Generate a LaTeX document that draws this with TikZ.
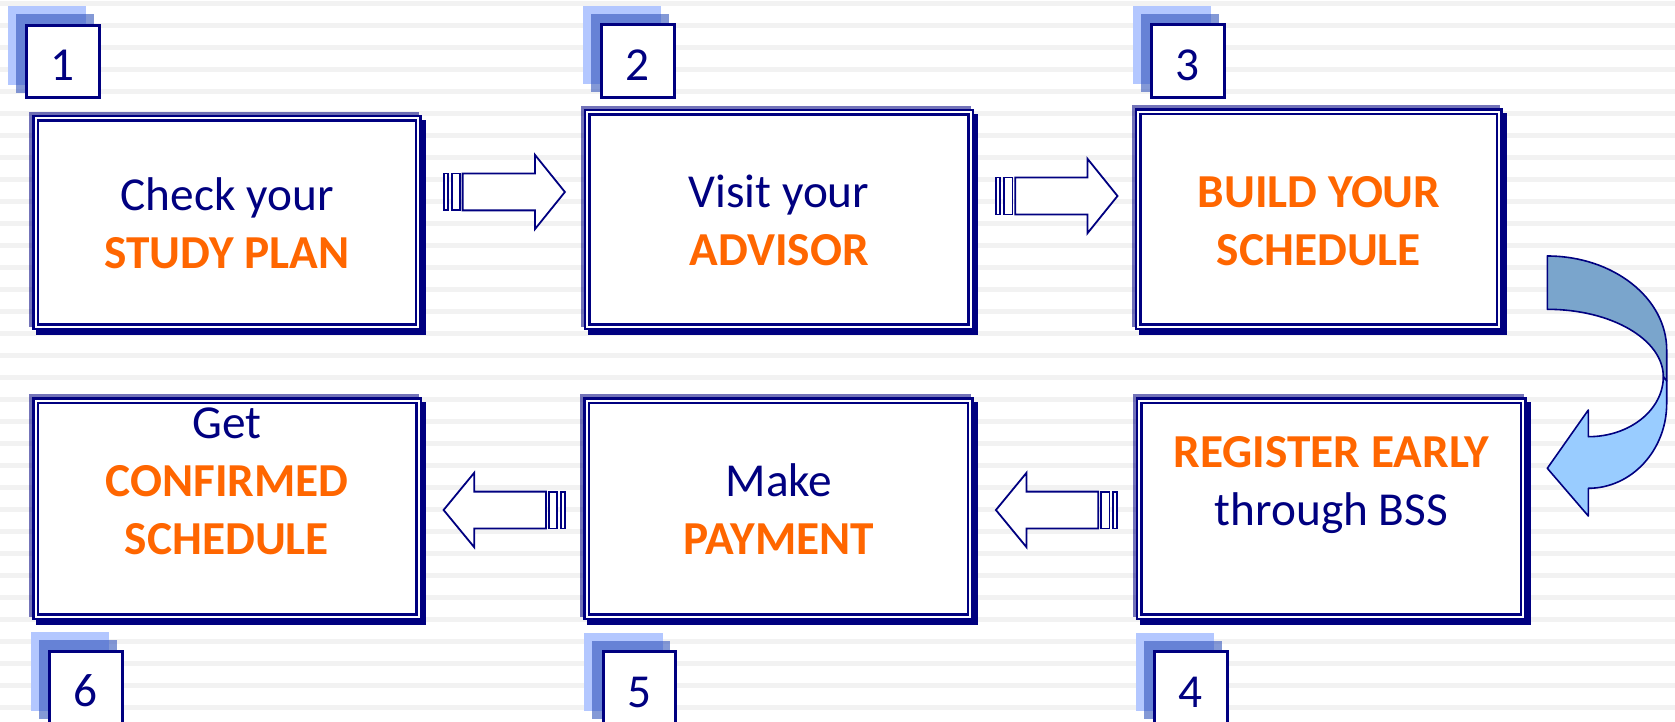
\documentclass[tikz,border=0pt]{standalone}
\usepackage{fontspec}
\setmainfont{Carlito}
\definecolor{navy}{RGB}{0,0,128}
\definecolor{orng}{RGB}{255,102,0}
\definecolor{stripe}{RGB}{242,242,242}
\definecolor{sqlight}{RGB}{179,199,255}
\definecolor{sqmid}{RGB}{51,85,187}
\definecolor{curvedark}{RGB}{122,165,204}
\definecolor{curvelight}{RGB}{153,204,255}
\tikzset{
  mainbox/.style={draw=navy, fill=white, line width=2.5pt, double=white, double distance=2pt, inner sep=0pt, outer sep=0pt},
  txtn/.style={anchor=base, text=navy, font=\fontsize{47.3}{57}\selectfont, inner sep=0pt},
  txto/.style={anchor=base, text=orng, font=\fontsize{47.3}{57}\selectfont\bfseries, inner sep=0pt},
  numbox/.style={draw=navy, fill=white, line width=3pt, inner sep=0pt, outer sep=0pt, minimum size=72.5pt},
  blockarrow/.style={draw=navy, fill=white, line width=1.8pt, line join=miter},
  curved/.style={draw=navy, line width=1.6pt, line join=round},
}
\newcommand{\bigbox}[5]{%
  \fill[navy, opacity=0.55] ({#2-3},{#3-3}) rectangle ({#4-3},{#5-3});
  \fill[navy] ({#2+4},{#3+5}) rectangle ({#4+4},{#5+5});
  \node[mainbox, minimum width={#4-#2-7}, minimum height={#5-#3-7}] (#1) at ({(#2+#4)/2},{(#3+#5)/2}) {};
}
\newcommand{\numsq}[4]{%
  \fill[sqlight] ({#2-17.5},{#3-17.5}) rectangle ({#2+61},{#3+61});
  \fill[sqmid, opacity=0.6] ({#2-9.5},{#3-9.5}) rectangle ({#2+68.5},{#3+69});
  \node[numbox] (#1) at ({#2+37.75},{#3+37.75}) {};
  \node[txtn] (#1t) at ({#2+37.5},{#3+57}) {#4};
}
\newcommand{\rarrow}[2]{%
  \draw[blockarrow] (#1,{#2-18.4}) rectangle ({#1+4},{#2+18.4});
  \draw[blockarrow] ({#1+8},{#2-18.4}) rectangle ({#1+16.3},{#2+18.4});
  \draw[blockarrow] ({#1+19},{#2-18.4}) -- ({#1+91.3},{#2-18.4}) -- ({#1+91.3},{#2-37.2}) -- ({#1+121.3},#2) -- ({#1+91.3},{#2+37.2}) -- ({#1+91.3},{#2+18.4}) -- ({#1+19},{#2+18.4}) -- cycle;
}
\newcommand{\larrow}[2]{%
  \draw[blockarrow] (#1,#2) -- ({#1+30.6},{#2-37.2}) -- ({#1+30.6},{#2-18.4}) -- ({#1+102.3},{#2-18.4}) -- ({#1+102.3},{#2+18.4}) -- ({#1+30.6},{#2+18.4}) -- ({#1+30.6},{#2+37.2}) -- cycle;
  \draw[blockarrow] ({#1+105},{#2-18.4}) rectangle ({#1+113.5},{#2+18.4});
  \draw[blockarrow] ({#1+117},{#2-18.4}) rectangle ({#1+121.3},{#2+18.4});
}
\begin{document}
\begin{tikzpicture}[x=1pt,y=-1pt]
\useasboundingbox (0,0) rectangle (1675,722);
\clip (0,0) rectangle (1675,722);
\fill[white] (0,0) rectangle (1675,722);
\foreach \i in {0,...,32} \fill[stripe] (0,{1.2+22*\i}) rectangle (1675,{6.2+22*\i});

% number squares
\numsq{n1}{25}{24}{1}
\numsq{n2}{600}{23.5}{2}
\numsq{n3}{1150}{23.5}{3}
\numsq{n6}{48}{649.5}{6}
\numsq{n5}{601.5}{650}{5}
\numsq{n4}{1153}{650}{4}

% main boxes
\bigbox{b1}{32.3}{115}{421.7}{330}
\bigbox{b2}{583.7}{109}{974}{330}
\bigbox{b3}{1134.7}{108.3}{1502.7}{330}
\bigbox{b6}{32}{397.3}{422}{620}
\bigbox{b5}{583.4}{397}{973.7}{620}
\bigbox{b4}{1135.7}{397}{1526.7}{620}

% texts
\node[txtn] (t1a) at (227,211) {Check your};
\node[txto] (t1b) at (227,268) {STUDY PLAN};
\node[txtn] (t2a) at (779,207.3) {Visit your};
\node[txto] (t2b) at (779,265) {ADVISOR};
\node[txto] (t3a) at (1319,207.3) {BUILD YOUR};
\node[txto] (t3b) at (1319,265) {SCHEDULE};
\node[txto] (t4a) at (1331.5,467.3) {REGISTER EARLY};
\node[txtn] (t4b) at (1331.5,525) {through BSS};
\node[txtn] (t5a) at (779,496.7) {Make};
\node[txto] (t5b) at (779,554) {PAYMENT};
\node[txtn] (t6a) at (227,438.3) {Get};
\node[txto] (t6b) at (227,496.7) {CONFIRMED};
\node[txto] (t6c) at (227,554.3) {SCHEDULE};

% block arrows
\rarrow{443.6}{192}
\rarrow{996.2}{196}
\larrow{443.6}{510}
\larrow{995.9}{510}

% curved arrow 3 -> 4
\draw[curved, fill=curvedark] (1547.3,256) .. controls (1613.2,256) and (1666.7,298.1) .. (1666.7,350) -- (1666.7,381) -- (1663.3,376.7) .. controls (1663.3,339.5) and (1611.4,309.3) .. (1547.3,309.3) -- cycle;
\draw[curved, fill=curvelight] (1663.3,376.7) -- (1666.7,381) -- (1666.7,403.3) .. controls (1666.7,450.2) and (1631.6,488.3) .. (1588.3,488.3) -- (1588.3,516) -- (1547.3,468.3) -- (1588.3,410) -- (1588.3,436.7) .. controls (1629.7,436.7) and (1663.3,409.8) .. (1663.3,376.7) -- cycle;
\end{tikzpicture}
\end{document}
